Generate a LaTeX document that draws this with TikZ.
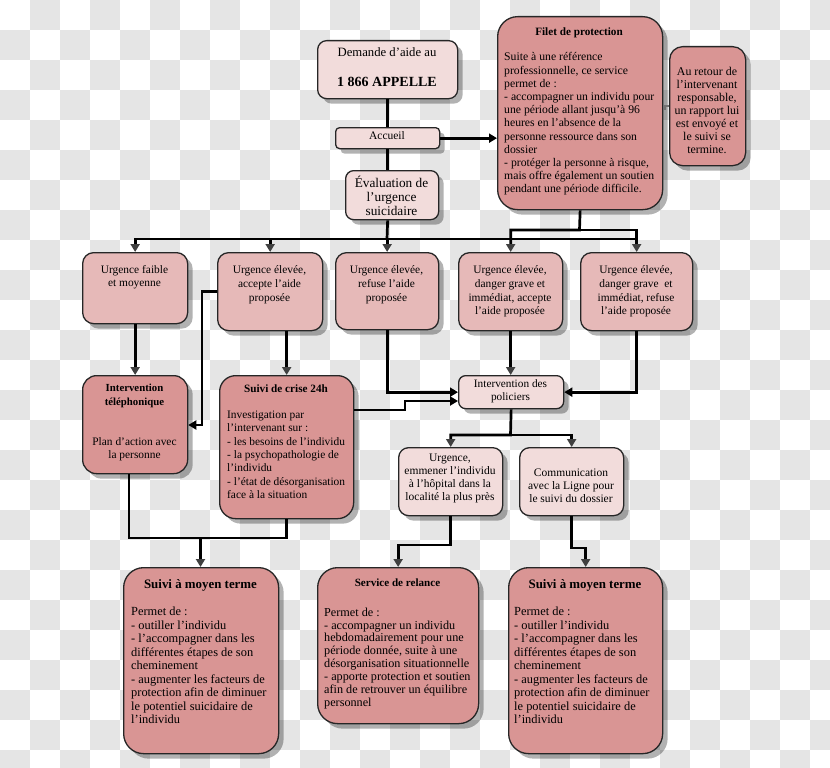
\documentclass[tikz,border=0pt]{standalone}
\usepackage{fontspec}
\setmainfont{Liberation Serif}
\usetikzlibrary{shadows,arrows.meta}
\definecolor{checker}{RGB}{229,229,229}
\definecolor{pinkL}{RGB}{242,220,219}
\definecolor{pinkM}{RGB}{230,185,184}
\definecolor{pinkD}{RGB}{217,149,148}
\definecolor{tipgray}{RGB}{64,64,64}
\newcommand\fs[2]{\fontsize{#1}{#2}\selectfont}
\begin{document}
\begin{tikzpicture}[x=1pt,y=-1pt,
  ln/.style={line width=2.7pt,draw=black},
  arr/.style={-{Triangle[length=8pt,width=9pt,color=black]}},
  arrd/.style={-{Triangle[length=8pt,width=9pt,color=tipgray]}},
  box/.style={draw=black!85,line width=1.3pt,inner sep=0pt,anchor=north west,
    drop shadow={shadow xshift=5pt,shadow yshift=-5pt,fill=black,opacity=0.3}},
  t/.style={inner sep=0pt,align=center,anchor=north,font=\fs{11.5}{13.4}},
  tl/.style={inner sep=0pt,align=left,anchor=north west}]
\useasboundingbox (0,0) rectangle (830,768);
\fill[white] (0,0) rectangle (830,768);
\begin{scope}
\clip (0,0) rectangle (830,768);
\foreach \i in {0,...,27}{\foreach \j in {0,...,25}{
  \pgfmathtruncatemacro\pp{mod(\i+\j,2)}
  \ifnum\pp=1 \fill[checker] (\i*30,\j*30) rectangle ++(30,30);\fi}}
\end{scope}

% boxes
\node[box,fill=pinkL,rounded corners=9pt,minimum width=140pt,minimum height=58pt] (dem) at (317,40) {};
\node[box,fill=pinkL,rounded corners=4pt,minimum width=104pt,minimum height=21pt] (acc) at (335,127) {};
\node[box,fill=pinkL,rounded corners=8pt,minimum width=93pt,minimum height=49pt] (eva) at (345,170) {};
\node[box,fill=pinkD,rounded corners=20pt,minimum width=165pt,minimum height=193pt] (fil) at (497,16) {};
\node[box,fill=pinkD,rounded corners=13pt,minimum width=76pt,minimum height=119pt] (ret) at (669,46) {};
\node[box,fill=pinkM,rounded corners=11pt,minimum width=105pt,minimum height=71pt] (u1) at (82,252) {};
\node[box,fill=pinkM,rounded corners=11pt,minimum width=105pt,minimum height=78pt] (u2) at (217,252) {};
\node[box,fill=pinkM,rounded corners=11pt,minimum width=103pt,minimum height=77pt] (u3) at (335,252) {};
\node[box,fill=pinkM,rounded corners=11pt,minimum width=104pt,minimum height=78pt] (u4) at (458,252) {};
\node[box,fill=pinkM,rounded corners=11pt,minimum width=112pt,minimum height=78pt] (u5) at (580,252) {};
\node[box,fill=pinkD,rounded corners=14pt,minimum width=105pt,minimum height=98pt] (it) at (82,375) {};
\node[box,fill=pinkD,rounded corners=16pt,minimum width=134pt,minimum height=143pt] (sc) at (219,375) {};
\node[box,fill=pinkL,rounded corners=7pt,minimum width=105pt,minimum height=33pt] (pol) at (458,375) {};
\node[box,fill=pinkL,rounded corners=10pt,minimum width=104pt,minimum height=68pt] (uh) at (398,447) {};
\node[box,fill=pinkL,rounded corners=10pt,minimum width=104pt,minimum height=68pt] (cl) at (519,447) {};
\node[box,fill=pinkD,rounded corners=20pt,minimum width=155pt,minimum height=186pt] (b1) at (123,567) {};
\node[box,fill=pinkD,rounded corners=20pt,minimum width=161pt,minimum height=156pt] (b2) at (317,567) {};
\node[box,fill=pinkD,rounded corners=20pt,minimum width=154pt,minimum height=186pt] (b3) at (508,567) {};

% texts
\node[t,font=\fs{12.7}{14}] (demt1) at (387,47) {Demande d’aide au};
\node[t,font=\fs{14}{16}\bfseries] (demt2) at (387,77) {1 866 APPELLE};
\node[t] (acct) at (387,131) {Accueil};
\node[t,font=\fs{13.3}{14}] (evat) at (391.5,175.5) {Évaluation de\\l’urgence\\suicidaire};
\node[t,font=\fs{11.2}{13}\bfseries] (filt) at (579,27.5) {Filet de protection};
\node[tl,font=\fs{11.7}{13.2}] (filb) at (504,52.5) {Suite à une référence\\professionnelle, ce service\\permet de :\\- accompagner un individu pour\\une période allant jusqu’à 96\\heures en l’absence de la\\personne ressource dans son\\dossier\\- protéger la personne à risque,\\mais offre également un soutien\\pendant une période difficile.};
\node[t,font=\fs{11.9}{13}] (rett) at (707,67) {Au retour de\\l’intervenant\\responsable,\\un rapport lui\\est envoyé et\\le suivi se\\termine.};
\node[t,font=\fs{11.4}{13}] (u1t) at (134.5,265.5) {Urgence faible\\et moyenne};
\node[t,font=\fs{11.4}{14}] (u2t) at (269.5,265.5) {Urgence élevée,\\accepte l’aide\\proposée};
\node[t,font=\fs{11.4}{14}] (u3t) at (386.5,265.5) {Urgence élevée,\\refuse l’aide\\proposée};
\node[t,font=\fs{11.4}{13.7}] (u4t) at (510,265.5) {Urgence élevée,\\danger grave et\\immédiat, accepte\\l’aide proposée};
\node[t,font=\fs{11.4}{13.7}] (u5t) at (636,265.5) {Urgence élevée,\\danger grave\ \ et\\immédiat, refuse\\l’aide proposée};
\node[t,font=\fs{10.8}{14}\bfseries] (itt) at (134.5,383.5) {Intervention\\téléphonique};
\node[t,font=\fs{11.4}{12.5}] (itb) at (134.5,437.5) {Plan d’action avec\\la personne};
\node[t,font=\fs{11.2}{13}\bfseries] (sct) at (286,384.5) {Suivi de crise 24h};
\node[tl,font=\fs{11.4}{13.4}] (scb) at (227,410.5) {Investigation par\\l’intervenant sur :\\- les besoins de l’individu\\- la psychopathologie de\\l’individu\\- l’état de désorganisation\\face à la situation};
\node[t,font=\fs{11.3}{13}] (polt) at (510.5,379.5) {Intervention des\\policiers};
\node[t,font=\fs{11.5}{13.2}] (uht) at (450,453.5) {Urgence,\\emmener l’individu\\à l’hôpital dans la\\localité la plus près};
\node[t,font=\fs{11.5}{13}] (clt) at (571,468.5) {Communication\\avec la Ligne pour\\le suivi du dossier};
\node[t,font=\fs{12.9}{14}\bfseries] (b1t) at (200.5,579) {Suivi à moyen terme};
\node[tl,font=\fs{12.4}{13.5}] (b1b) at (131,607) {Permet de :\\- outiller l’individu\\- l’accompagner dans les\\différentes étapes de son\\cheminement\\- augmenter les facteurs de\\protection afin de diminuer\\le potentiel suicidaire de\\l’individu};
\node[t,font=\fs{11.1}{13}\bfseries] (b2t) at (397.5,578.5) {Service de relance};
\node[tl,font=\fs{12.2}{12.9}] (b2b) at (324,607.5) {Permet de :\\- accompagner un individu\\hebdomadairement pour une\\période donnée, suite à une\\désorganisation situationnelle\\- apporte protection et soutien\\afin de retrouver un équilibre\\personnel};
\node[t,font=\fs{12.9}{14}\bfseries] (b3t) at (585,579) {Suivi à moyen terme};
\node[tl,font=\fs{12.4}{13.5}] (b3b) at (514,607) {Permet de :\\- outiller l’individu\\- l’accompagner dans les\\différentes étapes de son\\cheminement\\- augmenter les facteurs de\\protection afin de diminuer\\le potentiel suicidaire de\\l’individu};

% connectors
\coordinate (bar) at (387,239);
\coordinate (brk) at (579.5,230);
\coordinate (pb) at (510.5,435);
\coordinate (jb1) at (200.5,538);
\draw[ln] (dem.south) -- (acc.north);
\draw[ln] (acc.south) -- (acc.south |- eva.north);
\draw[ln,arr] (acc.east) -- (acc.east -| fil.west);
\draw[line width=1.6pt,draw=black!55] (fil.east |- 0,109) -- (665,109) -- (665,106) -- (ret.west |- 0,106);
\draw[ln] (acc.south |- eva.south) -- (bar);
\draw[ln,arrd] (bar) -| (u1.north);
\draw[ln,arrd] (bar) -| (u2.north);
\draw[ln,arrd] (bar) -| (u3.north);
\draw[ln] (bar) -- (u5.north |- bar);
\draw[ln,arrd] (fil.south) -- (brk) -| (u4.north);
\draw[ln,arrd] (brk) -| (u5.north);
\draw[ln,arrd] (u1.south) -- (it.north);
\draw[ln,arr] (u2.west) -| (202,425) -- (it.east |- 0,425);
\draw[ln,arrd] (sc.north |- u2.south) -- (sc.north);
\draw[ln,arr] (u3.south) |- (pol.west);
\draw[ln,arrd] (u4.south) -- (u4.south |- pol.north);
\draw[ln,arr] (u5.south) |- (pol.east);
\draw[ln,arr] (sc.east |- 0,410) -- (405,410) -- (405,401) -- (pol.west |- 0,401);
\draw[ln,arrd] (pol.south) -- (pb) -| (uh.north);
\draw[ln,arrd] (pb) -| (cl.north);
\draw[ln] (it.south -| 129,0) -- (129,538) -- (sc.south |- 0,538) -- (sc.south);
\draw[ln,arrd] (jb1) -- (jb1 |- b1.north);
\draw[ln,arrd] (uh.south) -- (uh.south |- 0,545) -| (b2.north);
\draw[ln,arrd] (cl.south) -- (cl.south |- 0,548) -| (b3.north);
\end{tikzpicture}
\end{document}
